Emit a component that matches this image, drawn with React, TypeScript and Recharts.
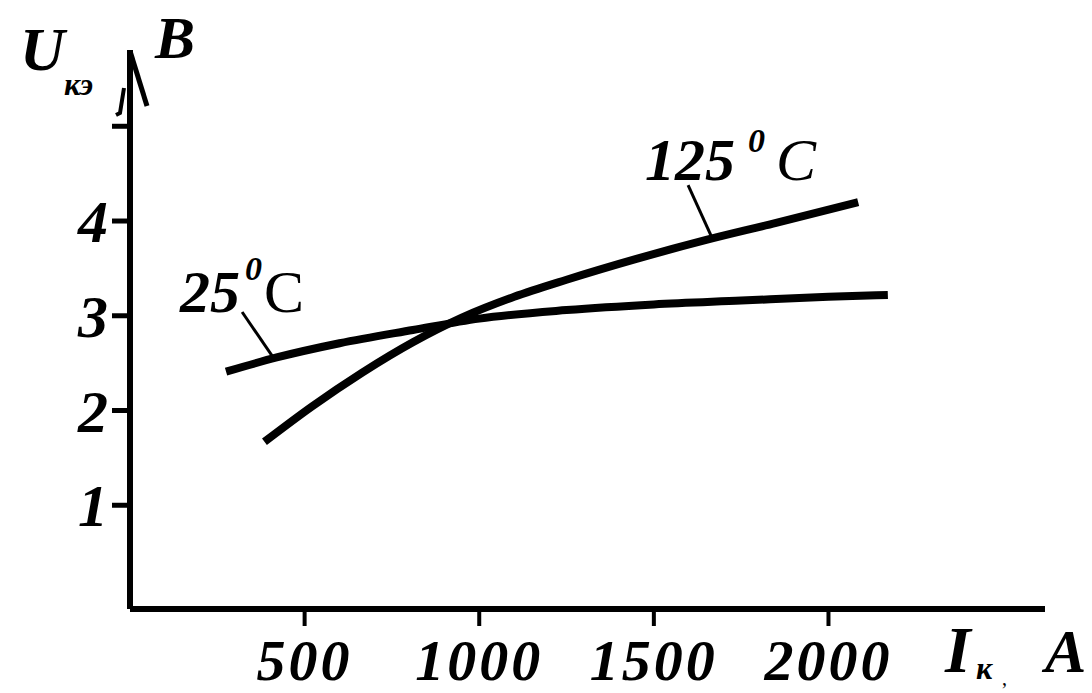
import React from "react";
import { LineChart, Line, XAxis, YAxis, ReferenceLine, ReferenceDot, Label } from "recharts";

// Ic, A  (current)
const current25 = [275, 420, 600, 810, 1000, 1250, 1500, 1750, 2000, 2170];
const voltage25 = [2.41, 2.56, 2.71, 2.85, 2.97, 3.06, 3.12, 3.16, 3.2, 3.22];
const current125 = [385, 520, 665, 810, 950, 1100, 1250, 1450, 1650, 1850, 2085];
const voltage125 = [1.67, 2.04, 2.4, 2.72, 2.98, 3.2, 3.38, 3.6, 3.8, 3.98, 4.2];

const xTicks = [500, 1000, 1500, 2000];
const yTicks = [1, 2, 3, 4, 5];
const yTickLabels = ["1", "2", "3", "4", ""];

const series25 = current25.map((i, k) => ({ i, u: voltage25[k] }));
const series125 = current125.map((i, k) => ({ i, u: voltage125[k] }));

const serif = "'Liberation Serif', 'Times New Roman', serif";

const XTick = (props: any) => {
    const { x, y, payload } = props;
    return (
        <text x={x} y={y + 52} textAnchor="middle" fontFamily={serif} fontSize={58} fontWeight="bold" fontStyle="italic" letterSpacing={3} fill="#000">
            {payload.value}
        </text>
    );
};

const YTick = (props: any) => {
    const { x, y, payload } = props;
    const idx = yTicks.indexOf(payload.value);
    return (
        <text x={x - 2} y={y} dy="0.35em" textAnchor="end" fontFamily={serif} fontSize={60} fontWeight="bold" fontStyle="italic" fill="#000">
            {yTickLabels[idx]}
        </text>
    );
};

const YTitle = (props: any) => {
    const { x, y, width } = props.viewBox;
    const ax = x + width;
    return (
        <g>
            <path d={`M${ax} ${y + 1} L${ax + 17} ${y + 56}`} stroke="#000" strokeWidth={5} fill="none" />
            <path d={`M${ax - 6} ${y + 38} L${ax - 10} ${y + 63} L${ax - 14} ${y + 65}`} stroke="#000" strokeWidth={4} fill="none" />
            <text x={ax - 110} y={y + 20} fontFamily={serif} fontSize={62} fontWeight="bold" fontStyle="italic" fill="#000">U</text>
            <text x={ax - 66} y={y + 45} fontFamily={serif} fontSize={32} fontWeight="bold" fontStyle="italic" fill="#000">кэ</text>
            <text x={ax + 25} y={y + 8} fontFamily={serif} fontSize={60} fontWeight="bold" fontStyle="italic" fill="#000">B</text>
        </g>
    );
};

const XTitle = (props: any) => {
    const { x, y } = props.viewBox;
    return (
        <g>
            <text x={x + 815} y={y + 63} fontFamily={serif} fontSize={66} fontWeight="bold" fontStyle="italic" fill="#000">I</text>
            <text x={x + 846} y={y + 70} fontFamily={serif} fontSize={32} fontWeight="bold" fontStyle="italic" fill="#000">к</text>
            <text x={x + 872} y={y + 76} fontFamily={serif} fontSize={20} fill="#000">,</text>
            <text x={x + 915} y={y + 63} fontFamily={serif} fontSize={62} fontWeight="bold" fontStyle="italic" fill="#000">A</text>
        </g>
    );
};

const Label25 = (props: any) => {
    const { x, y } = props.viewBox;
    return (
        <g>
            <text x={x - 2} y={y} textAnchor="end" fontFamily={serif} fontSize={60} fontWeight="bold" fontStyle="italic" fill="#000">25</text>
            <text x={x + 3} y={y - 32} fontFamily={serif} fontSize={34} fontWeight="bold" fontStyle="italic" fill="#000">0</text>
            <text x={x + 22} y={y} fontFamily={serif} fontSize={60} fill="#000">C</text>
        </g>
    );
};

const Label125 = (props: any) => {
    const { x, y } = props.viewBox;
    return (
        <g>
            <text x={x + 47} y={y - 5} textAnchor="end" fontFamily={serif} fontSize={60} fontWeight="bold" fontStyle="italic" fill="#000">125</text>
            <text x={x + 60} y={y - 33} fontFamily={serif} fontSize={34} fontWeight="bold" fontStyle="italic" fill="#000">0</text>
            <text x={x + 88} y={y - 5} fontFamily={serif} fontSize={60} fontStyle="italic" fill="#000">C</text>
        </g>
    );
};

export default function App() {
    return (
        <div style={{ position: "absolute", left: 0, top: 0, width: 1092, height: 693, background: "#fff" }}>
            <LineChart width={1092} height={693} margin={{ top: 50, right: 47, bottom: 0, left: 0 }}>
                <XAxis
                    type="number"
                    dataKey="i"
                    domain={[0, 2620]}
                    ticks={xTicks}
                    allowDataOverflow
                    height={84}
                    tickSize={17}
                    axisLine={{ stroke: "#000", strokeWidth: 6 }}
                    tickLine={{ stroke: "#000", strokeWidth: 4 }}
                    tick={<XTick />}
                >
                    <Label content={<XTitle />} />
                </XAxis>
                <YAxis
                    type="number"
                    domain={[-0.095, 5.805]}
                    ticks={yTicks}
                    allowDataOverflow
                    width={130}
                    tickSize={18}
                    axisLine={{ stroke: "#000", strokeWidth: 6 }}
                    tickLine={{ stroke: "#000", strokeWidth: 5 }}
                    tick={<YTick />}
                >
                    <Label content={<YTitle />} />
                </YAxis>
                <Line data={series25} type="monotone" dataKey="u" stroke="#000" strokeWidth={8} dot={false} isAnimationActive={false} />
                <Line data={series125} type="monotone" dataKey="u" stroke="#000" strokeWidth={8} dot={false} isAnimationActive={false} />
                <ReferenceLine segment={[{ x: 321, y: 3.04 }, { x: 410, y: 2.56 }]} stroke="#000" strokeWidth={3} ifOverflow="visible" />
                <ReferenceLine segment={[{ x: 1598, y: 4.38 }, { x: 1667, y: 3.82 }]} stroke="#000" strokeWidth={3} ifOverflow="visible" />
                <ReferenceDot x={321} y={3.04} r={0} fill="none" stroke="none" ifOverflow="visible" label={<Label25 />} />
                <ReferenceDot x={1598} y={4.38} r={0} fill="none" stroke="none" ifOverflow="visible" label={<Label125 />} />
            </LineChart>
        </div>
    );
}
